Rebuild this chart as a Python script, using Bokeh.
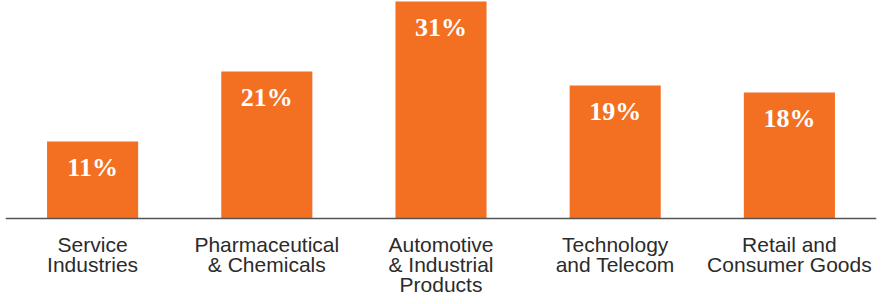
from bokeh.plotting import figure
from bokeh.models import ColumnDataSource, FactorRange, Range1d, Span
from bokeh.core.properties import value
from bokeh.embed import file_html
from bokeh.resources import INLINE

categories = [
    "Service\nIndustries",
    "Pharmaceutical\n& Chemicals",
    "Automotive\n& Industrial\nProducts",
    "Technology\nand Telecom",
    "Retail and\nConsumer Goods",
]
values = [11, 21, 31, 19, 18]
labels = [f"{v}%" for v in values]

ORANGE = "#F37022"

src = ColumnDataSource(dict(cat=categories, val=values, lab=labels,
                            base=[0] * len(values)))

p = figure(
    x_range=FactorRange(*categories, range_padding=0),
    y_range=Range1d(-11.14, 31.14),
    width=878, height=296,
    output_backend="svg", toolbar_location=None,
    min_border_left=5, min_border_right=2, min_border_top=0, min_border_bottom=0,
)

p.vbar(x="cat", top="val", bottom="base", width=0.523, source=src,
       fill_color=ORANGE, line_color=None)

# value labels inside bars
p.text(x="cat", y="val", text="lab", source=src, y_offset=26,
       text_align="center", text_baseline="middle", text_color="white",
       text_font=value("Liberation Serif"), text_font_style="bold",
       text_font_size="26px")

# category labels under the baseline
p.text(x="cat", y="base", text="cat", source=src, y_offset=14,
       text_align="center", text_baseline="top", text_color="#2b2b2b",
       text_font=value("Liberation Sans"), text_font_size="21px",
       text_line_height=0.89)

p.add_layout(Span(location=0, dimension="width", line_color="#555555", line_width=1.5))

p.xgrid.grid_line_color = None
p.ygrid.grid_line_color = None
p.xaxis.visible = False
p.yaxis.visible = False
p.outline_line_color = None

open("out.html", "w").write(file_html(p, INLINE))
